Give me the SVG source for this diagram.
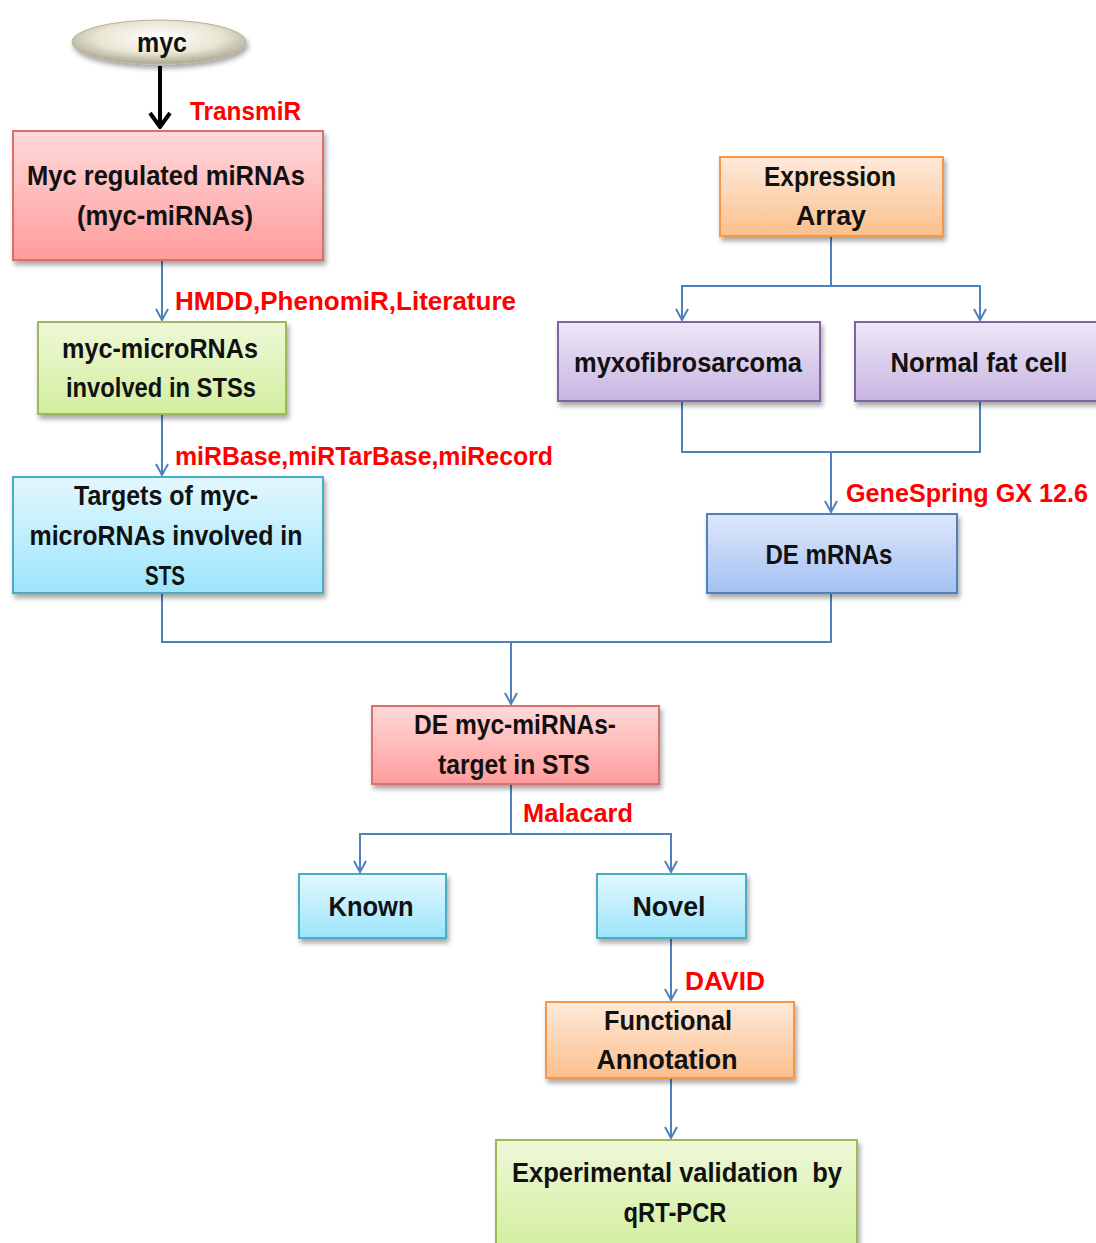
<svg xmlns="http://www.w3.org/2000/svg" width="1096" height="1243" viewBox="0 0 1096 1243">
<defs>
<linearGradient id="gPink" x1="0" y1="0" x2="0" y2="1"><stop offset="0" stop-color="#ffd9d9"/><stop offset="1" stop-color="#ff9c9c"/></linearGradient>
<linearGradient id="gGreen" x1="0" y1="0" x2="0" y2="1"><stop offset="0" stop-color="#eef8d8"/><stop offset="1" stop-color="#d3ee9f"/></linearGradient>
<linearGradient id="gCyan" x1="0" y1="0" x2="0" y2="1"><stop offset="0" stop-color="#e3f8fe"/><stop offset="1" stop-color="#9ce4fb"/></linearGradient>
<linearGradient id="gOrange" x1="0" y1="0" x2="0" y2="1"><stop offset="0" stop-color="#feeadb"/><stop offset="1" stop-color="#fbbf8c"/></linearGradient>
<linearGradient id="gPurple" x1="0" y1="0" x2="0" y2="1"><stop offset="0" stop-color="#ede7f7"/><stop offset="1" stop-color="#c8b5e2"/></linearGradient>
<linearGradient id="gBlue" x1="0" y1="0" x2="0" y2="1"><stop offset="0" stop-color="#dfe8f9"/><stop offset="1" stop-color="#a3c0f3"/></linearGradient>
<radialGradient id="gEll" cx="0.5" cy="0.4" r="0.6"><stop offset="0" stop-color="#ffffff"/><stop offset="0.6" stop-color="#e9e6d4"/><stop offset="1" stop-color="#aaa690"/></radialGradient>
<filter id="sh" x="-10%" y="-10%" width="130%" height="140%"><feDropShadow dx="2" dy="4" stdDeviation="2.5" flood-color="#000" flood-opacity="0.35"/></filter>
<marker id="av" markerWidth="14" markerHeight="14" refX="13" refY="7" orient="auto" markerUnits="userSpaceOnUse" viewBox="0 0 14 14"><path d="M2,1 L13,7 L2,13" fill="none" stroke="#4f81bd" stroke-width="2"/></marker>
<marker id="ab" markerWidth="24" markerHeight="24" refX="22" refY="12" orient="auto" markerUnits="userSpaceOnUse" viewBox="0 0 24 24"><path d="M8,2 L22,12 L8,22" fill="none" stroke="#000" stroke-width="4"/></marker>
</defs>
<style>
.box{stroke-width:2;filter:url(#sh)}
.pink{fill:url(#gPink);stroke:#d9706c}
.green{fill:url(#gGreen);stroke:#9bbb59}
.cyan{fill:url(#gCyan);stroke:#4bacc6}
.orange{fill:url(#gOrange);stroke:#f79646}
.purple{fill:url(#gPurple);stroke:#8064a2}
.blue{fill:url(#gBlue);stroke:#4f81bd}
.t{font-family:"Liberation Sans",Arial,sans-serif;font-weight:bold;font-size:27px;fill:#111;text-anchor:middle}
.r{font-family:"Liberation Sans",Arial,sans-serif;font-weight:bold;font-size:26px;fill:#ff0000}
.c{fill:none;stroke:#4f81bd;stroke-width:2}
</style>
<rect width="1096" height="1243" fill="#ffffff"/>
<g id="connectors">
<line x1="160" y1="66" x2="160" y2="127" stroke="#000" stroke-width="4" marker-end="url(#ab)"/>
<line class="c" x1="162" y1="260" x2="162" y2="320" marker-end="url(#av)"/>
<line class="c" x1="162" y1="414" x2="162" y2="475" marker-end="url(#av)"/>
<polyline class="c" points="831,236 831,286"/>
<polyline class="c" points="682,310 682,286 980,286 980,310"/>
<line class="c" x1="682" y1="300" x2="682" y2="320" marker-end="url(#av)"/>
<line class="c" x1="980" y1="300" x2="980" y2="320" marker-end="url(#av)"/>
<polyline class="c" points="682,401 682,452 980,452 980,401"/>
<line class="c" x1="831" y1="452" x2="831" y2="512" marker-end="url(#av)"/>
<polyline class="c" points="162,593 162,642 831,642 831,593"/>
<line class="c" x1="511" y1="642" x2="511" y2="704" marker-end="url(#av)"/>
<polyline class="c" points="511,784 511,834"/>
<polyline class="c" points="360,860 360,834 671,834 671,860"/>
<line class="c" x1="360" y1="850" x2="360" y2="872" marker-end="url(#av)"/>
<line class="c" x1="671" y1="850" x2="671" y2="872" marker-end="url(#av)"/>
<line class="c" x1="671" y1="938" x2="671" y2="1000" marker-end="url(#av)"/>
<line class="c" x1="671" y1="1078" x2="671" y2="1138" marker-end="url(#av)"/>
</g>
<g id="labels">
<text class="r" x="190" y="120" textLength="111" lengthAdjust="spacingAndGlyphs">TransmiR</text>
<text class="r" x="175" y="310" textLength="341" lengthAdjust="spacingAndGlyphs">HMDD,PhenomiR,Literature</text>
<text class="r" x="175" y="465" textLength="378" lengthAdjust="spacingAndGlyphs">miRBase,miRTarBase,miRecord</text>
<text class="r" x="846" y="502" textLength="242" lengthAdjust="spacingAndGlyphs">GeneSpring GX 12.6</text>
<text class="r" x="523" y="822" textLength="110" lengthAdjust="spacingAndGlyphs">Malacard</text>
<text class="r" x="685" y="990" textLength="80" lengthAdjust="spacingAndGlyphs">DAVID</text>
</g>
<g id="n-myc">
<ellipse cx="159" cy="42" rx="87" ry="22" fill="url(#gEll)" stroke="#b5b29c" stroke-width="1" filter="url(#sh)"/>
<text class="t" x="162" y="52" textLength="50" lengthAdjust="spacingAndGlyphs">myc</text>
</g>
<g id="n-mycreg">
<rect class="box pink" x="13" y="131" width="310" height="129"/>
<text class="t" x="166" y="185" textLength="278" lengthAdjust="spacingAndGlyphs">Myc regulated miRNAs</text>
<text class="t" x="165" y="225" textLength="176" lengthAdjust="spacingAndGlyphs">(myc-miRNAs)</text>
</g>
<g id="n-mycmicro">
<rect class="box green" x="38" y="322" width="248" height="92"/>
<text class="t" x="160" y="358" textLength="196" lengthAdjust="spacingAndGlyphs">myc-microRNAs</text>
<text class="t" x="161" y="397" textLength="190" lengthAdjust="spacingAndGlyphs">involved in STSs</text>
</g>
<g id="n-targets">
<rect class="box cyan" x="13" y="477" width="310" height="116"/>
<text class="t" x="166" y="505" textLength="184" lengthAdjust="spacingAndGlyphs">Targets of myc-</text>
<text class="t" x="166" y="545" textLength="273" lengthAdjust="spacingAndGlyphs">microRNAs involved in</text>
<text class="t" x="165" y="585" textLength="40" lengthAdjust="spacingAndGlyphs">STS</text>
</g>
<g id="n-expr">
<rect class="box orange" x="720" y="157" width="223" height="79"/>
<text class="t" x="830" y="186" textLength="132" lengthAdjust="spacingAndGlyphs">Expression</text>
<text class="t" x="831" y="225" textLength="70" lengthAdjust="spacingAndGlyphs">Array</text>
</g>
<g id="n-myxo">
<rect class="box purple" x="558" y="322" width="262" height="79"/>
<text class="t" x="688" y="372" textLength="228" lengthAdjust="spacingAndGlyphs">myxofibrosarcoma</text>
</g>
<g id="n-normal">
<rect class="box purple" x="855" y="322" width="250" height="79"/>
<text class="t" x="979" y="372" textLength="177" lengthAdjust="spacingAndGlyphs">Normal fat cell</text>
</g>
<g id="n-demrna">
<rect class="box blue" x="707" y="514" width="250" height="79"/>
<text class="t" x="829" y="564" textLength="127" lengthAdjust="spacingAndGlyphs">DE mRNAs</text>
</g>
<g id="n-demyc">
<rect class="box pink" x="372" y="706" width="287" height="78"/>
<text class="t" x="515" y="734" textLength="202" lengthAdjust="spacingAndGlyphs">DE myc-miRNAs-</text>
<text class="t" x="514" y="774" textLength="152" lengthAdjust="spacingAndGlyphs">target in STS</text>
</g>
<g id="n-known">
<rect class="box cyan" x="299" y="874" width="147" height="64"/>
<text class="t" x="371" y="916" textLength="85" lengthAdjust="spacingAndGlyphs">Known</text>
</g>
<g id="n-novel">
<rect class="box cyan" x="597" y="874" width="149" height="64"/>
<text class="t" x="669" y="916" textLength="73" lengthAdjust="spacingAndGlyphs">Novel</text>
</g>
<g id="n-func">
<rect class="box orange" x="546" y="1002" width="248" height="76"/>
<text class="t" x="668" y="1030" textLength="128" lengthAdjust="spacingAndGlyphs">Functional</text>
<text class="t" x="667" y="1069" textLength="141" lengthAdjust="spacingAndGlyphs">Annotation</text>
</g>
<g id="n-exp">
<rect class="box green" x="496" y="1140" width="361" height="110"/>
<text class="t" x="677" y="1182" textLength="330" lengthAdjust="spacingAndGlyphs" style="white-space:pre">Experimental validation  by</text>
<text class="t" x="675" y="1222" textLength="103" lengthAdjust="spacingAndGlyphs">qRT-PCR</text>
</g>
</svg>
